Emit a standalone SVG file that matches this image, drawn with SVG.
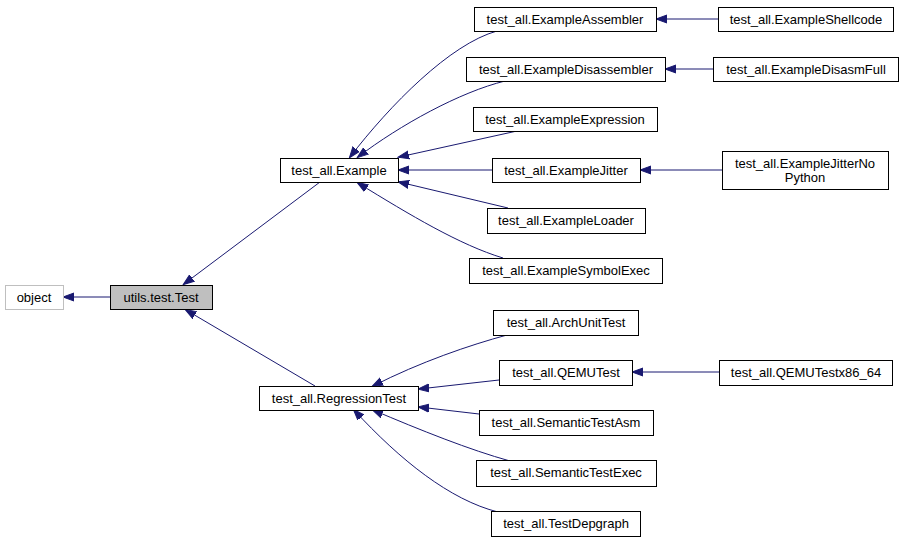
<svg xmlns="http://www.w3.org/2000/svg" width="904" height="544" viewBox="0 0 904 544">
<defs>
<style>
.n rect{fill:#fff;stroke:#000;stroke-width:1}
.n text{font-family:"Liberation Sans",Arial,sans-serif;font-size:13px;fill:#000;text-anchor:middle;dominant-baseline:central}
#n_object rect{stroke:#bfbfbf}
#n_test rect{fill:#bfbfbf}
.e path{fill:none;stroke:#191970;stroke-width:1;marker-end:url(#ah)}
</style>
<marker id="ah" markerUnits="userSpaceOnUse" markerWidth="12" markerHeight="10" refX="10" refY="4" orient="auto" viewBox="0 0 12 8">
<polygon points="0,0 11,4 0,8" fill="#191970" stroke="#191970"/>
</marker>
</defs>
<rect width="904" height="544" fill="#fff"/>
<g id="edges" class="e">
<path d="M110,297 L64,297"/>
<path d="M320,182 L184,284"/>
<path d="M315,386 L186,310"/>
<path d="M497,31 C450,44 390,105 350,157"/>
<path d="M505,81 C460,92 400,125 358,157"/>
<path d="M517,131 L399,157"/>
<path d="M492,170 L399,170"/>
<path d="M508,208 L399,182"/>
<path d="M503,258 C460,245 410,215 358,183"/>
<path d="M718,19 L657,19"/>
<path d="M713,69 L666,69"/>
<path d="M722,170 L641,170"/>
<path d="M507,335 C470,345 420,362 373,386"/>
<path d="M499,380 L419,389"/>
<path d="M479,414 L419,407"/>
<path d="M510,461 C470,450 420,430 373,410"/>
<path d="M498,512 C450,500 400,460 354,410"/>
<path d="M719,372 L633,372"/>
</g>
<g id="n_object" class="n"><rect x="5.5" y="285.5" width="58" height="24"/><text x="34" y="297.5">object</text></g>
<g id="n_test" class="n"><rect x="110.5" y="285.5" width="102" height="24"/><text x="161" y="297.5">utils.test.Test</text></g>
<g id="n_example" class="n"><rect x="280.5" y="158.5" width="118" height="24"/><text x="339" y="170.5">test_all.Example</text></g>
<g id="n_regression" class="n"><rect x="259.5" y="386.5" width="159" height="24"/><text x="339" y="398.5">test_all.RegressionTest</text></g>
<g id="n_assembler" class="n"><rect x="474.5" y="7.5" width="182" height="24"/><text x="565" y="19.5">test_all.ExampleAssembler</text></g>
<g id="n_shellcode" class="n"><rect x="718.5" y="7.5" width="175" height="24"/><text x="806" y="19.5">test_all.ExampleShellcode</text></g>
<g id="n_disassembler" class="n"><rect x="466.5" y="57.5" width="199" height="24"/><text x="566" y="69.5">test_all.ExampleDisassembler</text></g>
<g id="n_disasmfull" class="n"><rect x="713.5" y="57.5" width="185" height="24"/><text x="806" y="69.5">test_all.ExampleDisasmFull</text></g>
<g id="n_expression" class="n"><rect x="473.5" y="107.5" width="184" height="24"/><text x="565" y="119.5">test_all.ExampleExpression</text></g>
<g id="n_jitter" class="n"><rect x="492.5" y="158.5" width="148" height="24"/><text x="566" y="170.5">test_all.ExampleJitter</text></g>
<g id="n_jitternopython" class="n"><rect x="722.5" y="151.5" width="166" height="38"/><text x="805" y="163.5">test_all.ExampleJitterNo</text><text x="805" y="177.5">Python</text></g>
<g id="n_loader" class="n"><rect x="487.5" y="208.5" width="158" height="25"/><text x="566" y="220.5">test_all.ExampleLoader</text></g>
<g id="n_symbolexec" class="n"><rect x="469.5" y="258.5" width="193" height="25"/><text x="566" y="270.5">test_all.ExampleSymbolExec</text></g>
<g id="n_archunit" class="n"><rect x="493.5" y="310.5" width="145" height="25"/><text x="566" y="322.5">test_all.ArchUnitTest</text></g>
<g id="n_qemu" class="n"><rect x="499.5" y="360.5" width="133" height="25"/><text x="566" y="372.5">test_all.QEMUTest</text></g>
<g id="n_qemux86" class="n"><rect x="719.5" y="360.5" width="173" height="25"/><text x="806" y="372.5">test_all.QEMUTestx86_64</text></g>
<g id="n_semasm" class="n"><rect x="479.5" y="410.5" width="174" height="25"/><text x="566" y="422.5">test_all.SemanticTestAsm</text></g>
<g id="n_semexec" class="n"><rect x="476.5" y="460.5" width="180" height="26"/><text x="566" y="472.5">test_all.SemanticTestExec</text></g>
<g id="n_depgraph" class="n"><rect x="491.5" y="511.5" width="149" height="25"/><text x="566" y="523.5">test_all.TestDepgraph</text></g>
</svg>
